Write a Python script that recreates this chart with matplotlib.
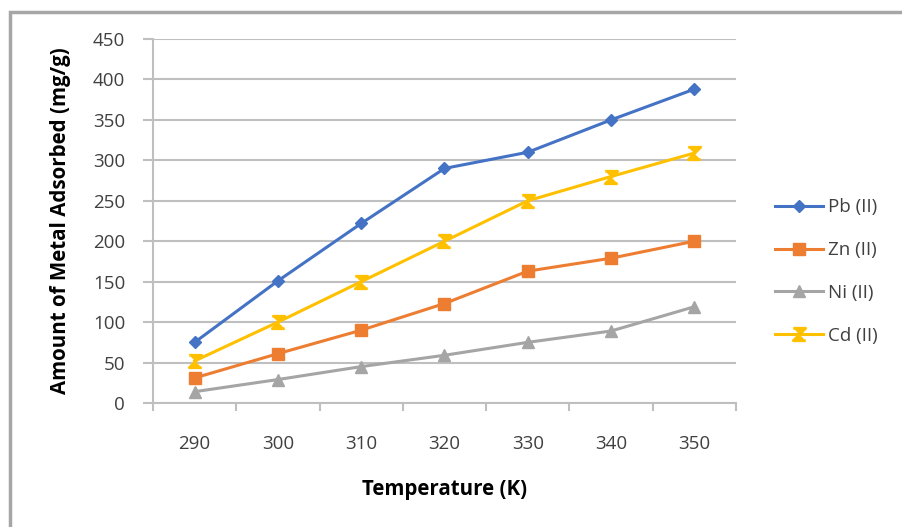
# Adsorption of heavy metals vs temperature - line chart
import matplotlib.pyplot as plt
from matplotlib.path import Path
from matplotlib.patches import Rectangle
from matplotlib.ticker import FixedLocator

plt.rcParams["font.family"] = ["Open Sans", "DejaVu Sans"]

sicaklik = ["290", "300", "310", "320", "330", "340", "350"]
pb = [75, 151, 222, 290, 310, 350, 388]
zn = [31, 61, 90, 123, 163, 179, 200]
ni = [14, 29, 45, 59, 75, 89, 119]
cd = [52, 100, 150, 200, 250, 280, 309]
y_ticks = [0, 50, 100, 150, 200, 250, 300, 350, 400, 450]

# Excel tarzi "kum saati" isaretci (Cd serisi icin)
kum_saati = Path(
    [(-1, 1), (1, 1), (-1, -1), (1, -1)],
    [Path.MOVETO, Path.LINETO, Path.LINETO, Path.LINETO],
)

yazi = 13.5
baslik = 14.8

fig = plt.figure(figsize=(9.03, 5.27), dpi=100)

# dis cerceve
fig.patches.append(
    Rectangle((10 / 903, -0.1), 1.2, 1 - 12 / 527 + 0.1,
              transform=fig.transFigure, fill=False,
              edgecolor="#a6a6a6", linewidth=2.5)
)

ax = fig.add_axes([153 / 903, 1 - 403 / 527, 583 / 903, 364 / 527])

x = list(range(len(sicaklik)))
ax.plot(x, pb, color="#4472C4", marker="D", markersize=6, linewidth=2.2, label="Pb (II)")
ax.plot(x, zn, color="#ED7D31", marker="s", markersize=8, linewidth=2.2, label="Zn (II)")
ax.plot(x, ni, color="#A5A5A5", marker="^", markersize=8, linewidth=2.2, label="Ni (II)")
ax.plot(x, cd, color="#FFC000", marker=kum_saati, markersize=9, markeredgewidth=2,
        linewidth=2.2, label="Cd (II)")

ax.set_xlim(-0.5, len(sicaklik) - 0.5)
ax.set_ylim(0, 450)
ax.set_yticks(y_ticks)
ax.set_xticks(x)
ax.set_xticklabels(sicaklik)
ax.xaxis.set_minor_locator(FixedLocator([i - 0.5 for i in range(len(sicaklik) + 1)]))

ax.grid(axis="y", color="#bfbfbf", linewidth=1.5)
ax.set_axisbelow(True)
for s in ["top", "right"]:
    ax.spines[s].set_visible(False)
for s in ["left", "bottom"]:
    ax.spines[s].set_color("#bfbfbf")
    ax.spines[s].set_linewidth(1.5)

ax.tick_params(axis="y", length=7, width=1.5, color="#bfbfbf", pad=13,
               labelsize=yazi, labelcolor="#404040")
ax.tick_params(axis="x", which="major", length=0, pad=23,
               labelsize=yazi, labelcolor="#404040")
ax.tick_params(axis="x", which="minor", length=6, width=1.5, color="#bfbfbf")

ax.set_xlabel("Temperature (K)", fontsize=baslik, fontweight="bold", labelpad=19)
ax.set_ylabel("Amount of Metal Adsorbed (mg/g)", fontsize=baslik, fontweight="bold",
              labelpad=16)

ax.legend(loc="center left", bbox_to_anchor=(1.038, 0.361), frameon=False,
          fontsize=yazi, labelspacing=1.32, handlelength=2.56, handletextpad=0.27,
          labelcolor="#404040")

plt.savefig("out.png", dpi=100)
